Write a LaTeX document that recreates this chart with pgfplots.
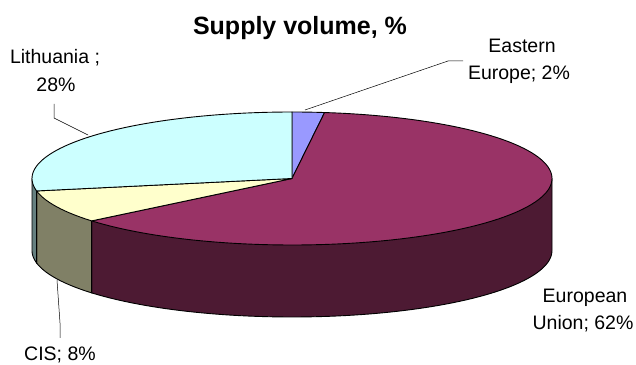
\documentclass[border=0pt]{standalone}
\usepackage{fontspec}
\setmainfont{Liberation Sans}
\usepackage{pgfplots}
\pgfplotsset{compat=1.18}
\definecolor{ee}{HTML}{9999FF}
\definecolor{eu}{HTML}{993366}
\definecolor{eus}{HTML}{4D1A33}
\definecolor{cis}{HTML}{FFFFCC}
\definecolor{ciss}{HTML}{808066}
\definecolor{lt}{HTML}{CCFFFF}
\definecolor{lts}{HTML}{668080}
\begin{document}
\begin{tikzpicture}
% geometry (axis units = pixels)
\def\cx{292}\def\cy{186.5}\def\ra{260}\def\rb{66.5}\def\h{72}
% data: supply volume, %
\def\vEE{2}\def\vEU{62}\def\vCIS{8}\def\vLT{28}
\pgfmathsetmacro\aA{90}
\pgfmathsetmacro\aB{\aA-3.6*\vEE}
\pgfmathsetmacro\aC{\aB-3.6*\vEU}
\pgfmathsetmacro\aD{\aC-3.6*\vCIS}
\pgfmathsetmacro\aE{\aD-3.6*\vLT}
\pgfmathsetmacro\xC{\cx+\ra*cos(\aC)}
\pgfmathsetmacro\xD{\cx+\ra*cos(\aD)}
\pgfmathsetmacro\xR{\cx+\ra}
\pgfmathsetmacro\xL{\cx-\ra}
\begin{axis}[at={(0,0)},anchor=south west,scale only axis,
  width=636bp,height=365bp,xmin=0,xmax=636,ymin=0,ymax=365,
  hide axis,clip=false]
% side walls
\addplot[fill=eus,draw=black,line width=0.9bp,domain=\aC:0,samples=80]
  ({\cx+\ra*cos(x)},{\cy+\rb*sin(x)-\h}) -- (axis cs:\xR,\cy) -- (axis cs:\xC,\cy) -- cycle;
\addplot[fill=ciss,draw=black,line width=0.9bp,domain=\aD:\aC,samples=30]
  ({\cx+\ra*cos(x)},{\cy+\rb*sin(x)-\h}) -- (axis cs:\xC,\cy) -- (axis cs:\xD,\cy) -- cycle;
\addplot[fill=lts,draw=black,line width=0.9bp,domain=-180:\aD,samples=15]
  ({\cx+\ra*cos(x)},{\cy+\rb*sin(x)-\h}) -- (axis cs:\xD,\cy) -- (axis cs:\xL,\cy) -- cycle;
% top faces
\addplot[fill=ee,draw=black,line width=0.9bp,domain=\aB:\aA,samples=10]
  ({\cx+\ra*cos(x)},{\cy+\rb*sin(x)}) -- (axis cs:\cx,\cy) -- cycle;
\addplot[fill=eu,draw=black,line width=0.9bp,domain=\aC:\aB,samples=120]
  ({\cx+\ra*cos(x)},{\cy+\rb*sin(x)}) -- (axis cs:\cx,\cy) -- cycle;
\addplot[fill=cis,draw=black,line width=0.9bp,domain=\aD:\aC,samples=30]
  ({\cx+\ra*cos(x)},{\cy+\rb*sin(x)}) -- (axis cs:\cx,\cy) -- cycle;
\addplot[fill=lt,draw=black,line width=0.9bp,domain=\aE:\aD,samples=60]
  ({\cx+\ra*cos(x)},{\cy+\rb*sin(x)}) -- (axis cs:\cx,\cy) -- cycle;
% leader lines
\addplot[black,line width=0.5bp] coordinates {(463,304) (448,304) (305,255)};
\addplot[black,line width=0.5bp] coordinates {(54,261) (54,247) (88,230)};
\addplot[black,line width=0.5bp] coordinates {(60,27) (60,42) (57,85)};
% labels
\node[anchor=base,font=\fontsize{25bp}{30bp}\selectfont\bfseries] at (axis cs:300,330) {Supply volume, \%};
\begin{scope}[every node/.style={anchor=base,font=\fontsize{19.5bp}{23bp}\selectfont,inner sep=0pt}]
\node at (axis cs:522,312) {Eastern};
\node at (axis cs:519,285) {Europe; 2\%};
\node at (axis cs:55,301) {Lithuania ;};
\node at (axis cs:56,273) {28\%};
\node at (axis cs:60,5) {CIS; 8\%};
\node at (axis cs:585,62) {European};
\node at (axis cs:583,35) {Union; 62\%};
\end{scope}
\end{axis}
\pgfresetboundingbox
\path[use as bounding box] (0,0) rectangle (636bp,365bp);
\end{tikzpicture}
\end{document}
